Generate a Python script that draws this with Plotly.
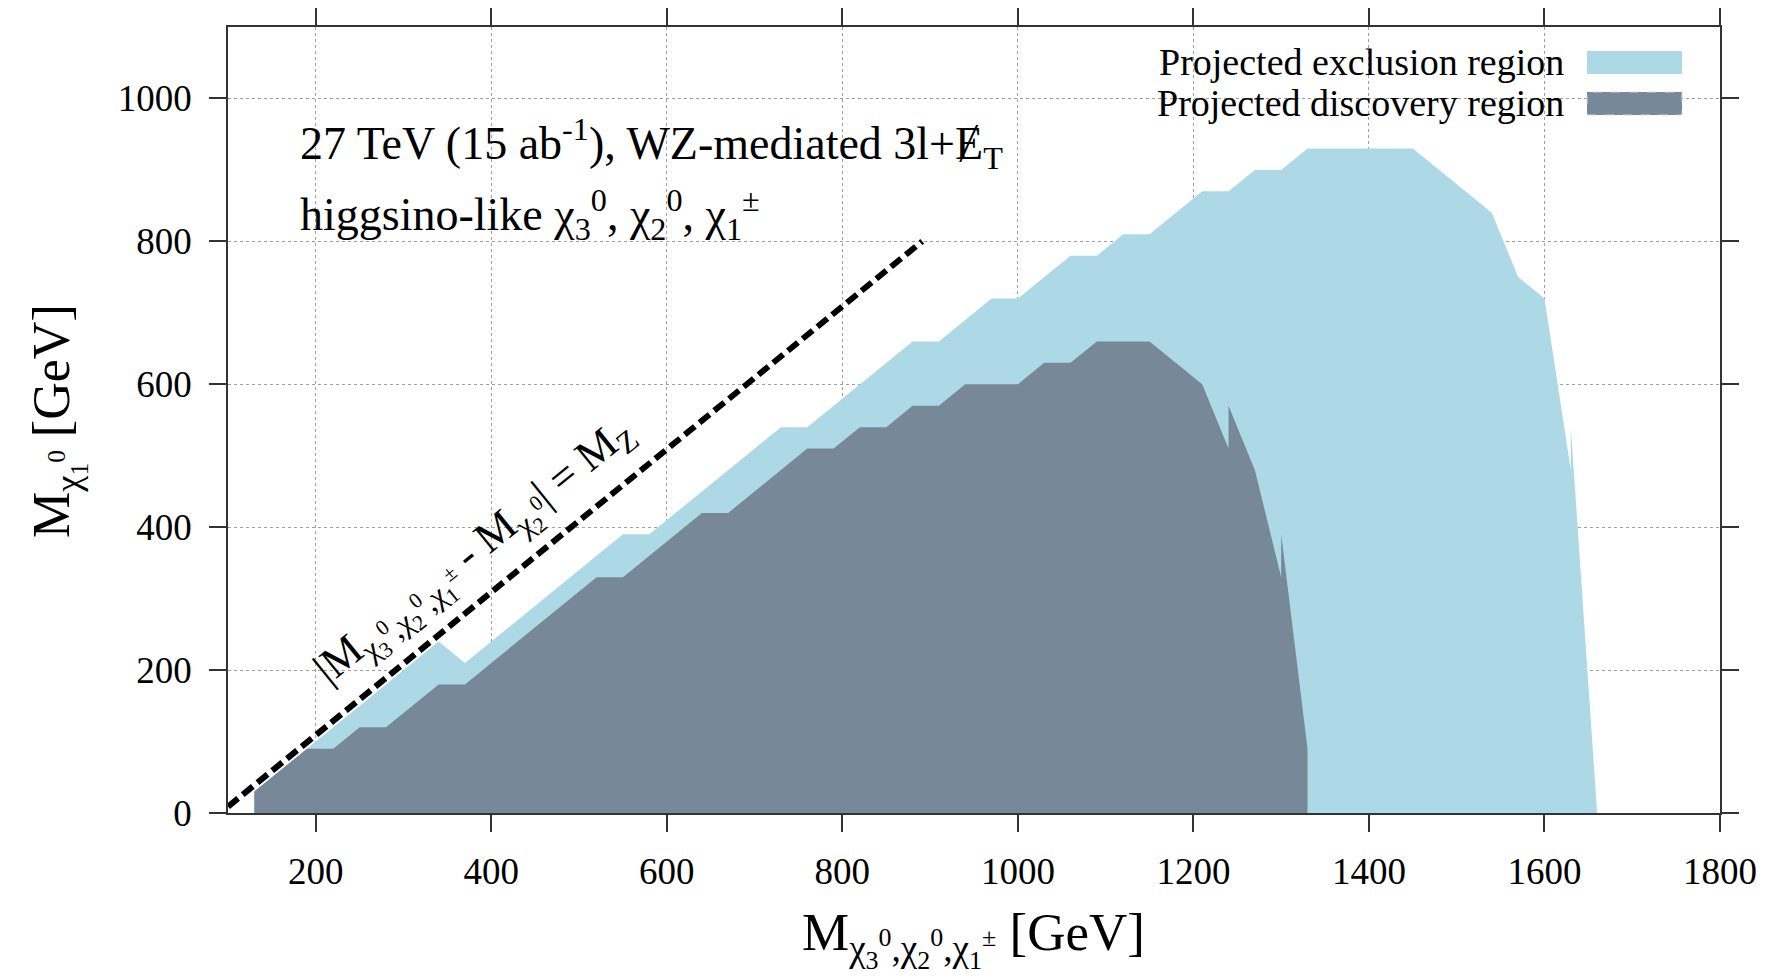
import plotly.graph_objects as go

# ---------------- data ----------------
# Projected exclusion region outline (M_chi3,chi2,chi1 [GeV], M_chi1 [GeV])
excl_x = [130, 130, 340, 370, 550, 580, 730, 760, 880, 910, 970, 1000, 1060, 1090,
          1120, 1150, 1210, 1240, 1270, 1300, 1330, 1450, 1540, 1570, 1600, 1630, 1630, 1660]
excl_y = [0, 30, 240, 210, 390, 390, 540, 540, 660, 660, 720, 720, 780, 780,
          810, 810, 870, 870, 900, 900, 930, 930, 840, 750, 720, 480, 540, 0]

# Projected discovery region outline
disc_x = [130, 130, 190, 220, 250, 280, 340, 370, 520, 550, 640, 670, 760, 790, 820, 850,
          880, 910, 940, 1000, 1030, 1060, 1090, 1150, 1210, 1240, 1240, 1270, 1300, 1300, 1330, 1330]
disc_y = [0, 30, 90, 90, 120, 120, 180, 180, 330, 330, 420, 420, 510, 510, 540, 540,
          570, 570, 600, 600, 630, 630, 660, 660, 600, 510, 570, 480, 330, 390, 90, 0]

# |M(chi3,chi2,chi1) - M(chi2)| = M_Z line
mz_x = [100, 891]
mz_y = [9, 800]

x_ticks = [200, 400, 600, 800, 1000, 1200, 1400, 1600, 1800]
y_ticks = [0, 200, 400, 600, 800, 1000]
x_range = [100, 1800]
y_range = [0, 1100]

legend_labels = ["Projected exclusion region", "Projected discovery region"]
excl_color = "#add8e6"
disc_color = "#778899"

# ---------------- layout geometry ----------------
W_PX, H_PX = 1773, 980
L, R, T, B = 228, 53, 27, 167
PW, PH = W_PX - L - R, H_PX - T - B
FONT = "Liberation Serif, Times New Roman, serif"


def px(xp):
    return (xp - L) / PW


def py(yp):
    return (H_PX - B - yp) / PH


fig = go.Figure()
fig.add_trace(go.Scatter(x=excl_x, y=excl_y, mode="lines", fill="toself",
                         fillcolor=excl_color, line=dict(width=0, color=excl_color),
                         hoverinfo="skip", showlegend=False, name=legend_labels[0]))
fig.add_trace(go.Scatter(x=disc_x, y=disc_y, mode="lines", fill="toself",
                         fillcolor=disc_color, line=dict(width=0, color=disc_color),
                         hoverinfo="skip", showlegend=False, name=legend_labels[1]))
fig.add_trace(go.Scatter(x=mz_x, y=mz_y, mode="lines",
                         line=dict(color="black", width=6, dash="13px,6px"),
                         hoverinfo="skip", showlegend=False))

axis_common = dict(
    showgrid=True, gridcolor="#a0a0a0", griddash="dot", gridwidth=1,
    ticks="outside", ticklen=17, tickwidth=1.5, tickcolor="#333333",
    showline=True, linecolor="#333333", linewidth=1.5, mirror="ticks",
    zeroline=False, automargin=False,
    tickfont=dict(family=FONT, size=37, color="black"),
)

fig.update_layout(
    width=W_PX, height=H_PX,
    margin=dict(l=L, r=R, t=T, b=B, autoexpand=False),
    paper_bgcolor="white", plot_bgcolor="white",
    xaxis=dict(range=x_range, tickvals=x_ticks, ticklabelstandoff=8, **axis_common),
    yaxis=dict(range=y_range, tickvals=y_ticks, ticklabelstandoff=10, **axis_common),
    showlegend=False,
)

shapes = [
    # white backdrop of the key (hides the grid behind it)
    dict(type="rect", xref="paper", yref="paper", x0=px(1061), x1=px(1700), y0=py(130), y1=py(45),
         fillcolor="white", line=dict(width=0), layer="between"),
    # key swatches
    dict(type="rect", xref="paper", yref="paper", x0=px(1587), x1=px(1682), y0=py(74), y1=py(51),
         fillcolor=excl_color, line=dict(width=0)),
    dict(type="rect", xref="paper", yref="paper", x0=px(1587), x1=px(1682), y0=py(115), y1=py(92),
         fillcolor=disc_color, line=dict(width=1, color="#d8d8d8", dash="dash")),
]
fig.update_layout(shapes=shapes)

chi3 = "χ<sub>3</sub><sup>0</sup>"
chi2 = "χ<sub>2</sub><sup>0</sup>"
chi1p = "χ<sub>1</sub><sup>±</sup>"
chi1 = "χ<sub>1</sub><sup>0</sup>"

annotations = [
    dict(text=legend_labels[0], x=px(1566), y=py(62.5), xanchor="right", yanchor="middle", size=38),
    dict(text=legend_labels[1], x=px(1566), y=py(103.5), xanchor="right", yanchor="middle", size=38),
    dict(text="27 TeV (15 ab<sup>-1</sup>), WZ-mediated 3l+Ɇ<sub>T</sub>",
         x=px(298), y=py(144), xanchor="left", yanchor="middle", size=46),
    dict(text=f"higgsino-like {chi3}, {chi2}, {chi1p}",
         x=px(298), y=py(214), xanchor="left", yanchor="middle", size=46),
    dict(text=f"|M<sub>{chi3},{chi2},{chi1p}</sub> - M<sub>{chi2}</sub>| = M<sub>Z</sub>",
         x=px(476), y=py(554), xanchor="center", yanchor="middle", size=44, angle=-39),
    dict(text=f"M<sub>{chi1}</sub> [GeV]", x=px(58), y=py(421), xanchor="center", yanchor="middle",
         size=52, angle=-90),
    dict(text=f"M<sub>{chi3},{chi2},{chi1p}</sub> [GeV]", x=px(973), y=py(939), xanchor="center",
         yanchor="middle", size=53),
]
for a in annotations:
    size = a.pop("size", 37)
    angle = a.pop("angle", 0)
    fig.add_annotation(xref="paper", yref="paper", showarrow=False, textangle=angle,
                       font=dict(family=FONT, size=size, color="black"), **a)

fig.write_html("out.html")
